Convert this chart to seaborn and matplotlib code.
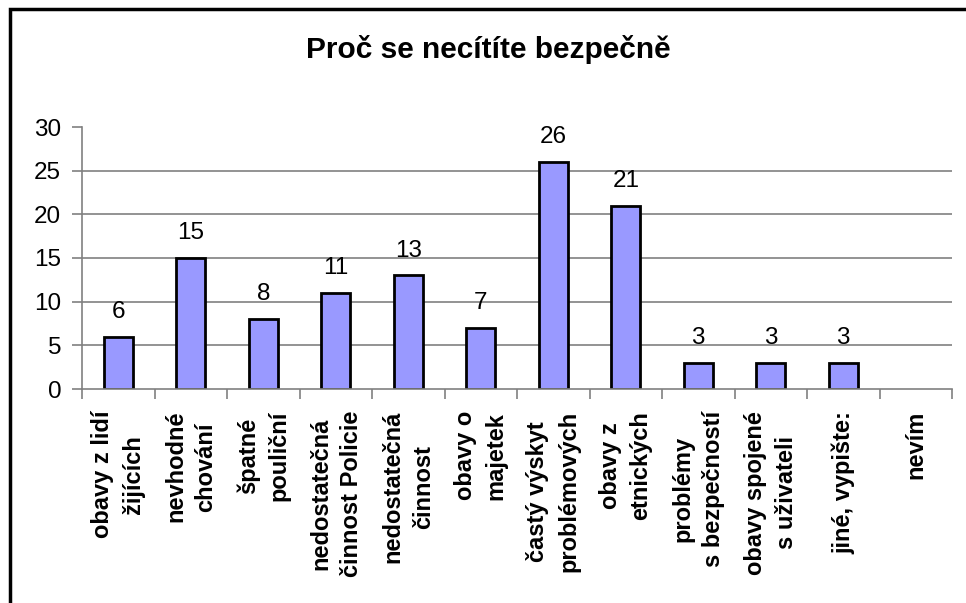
import numpy as np
import pandas as pd
import matplotlib
matplotlib.use("Agg")
import matplotlib.pyplot as plt
import matplotlib.transforms as mtransforms
import seaborn as sns
from matplotlib.patches import Rectangle

categories = [
    "obavy z lidí\nžijících",
    "nevhodné\nchování",
    "špatné\npouliční",
    "nedostatečná\nčinnost Policie",
    "nedostatečná\nčinnost",
    "obavy o\nmajetek",
    "častý výskyt\nproblémových",
    "obavy z\netnických",
    "problémy\ns bezpečností",
    "obavy spojené\ns uživateli",
    "jiné, vypište:",
    "nevím",
]
values = [6, 15, 8, 11, 13, 7, 26, 21, 3, 3, 3, np.nan]
title = "Proč se necítíte bezpečně"
yticks = [0, 5, 10, 15, 20, 25, 30]

sns.set_theme(style="white")
plt.rcParams['font.family'] = ['Liberation Sans', 'DejaVu Sans']

df = pd.DataFrame({"cat": categories, "val": values})

fig = plt.figure(figsize=(9.66, 6.03), dpi=100)
fig.patch.set_facecolor("white")
ax = fig.add_axes([82/966, 1-389/603, (952-82)/966, (389-127)/603])

sns.barplot(data=df, x="cat", y="val", ax=ax, color="#9999FF",
            width=0.4, edgecolor="black", linewidth=2.0, saturation=1)

ax.set_ylim(0, 30)
ax.set_xlim(-0.5, len(categories) - 0.5)
ax.set_yticks(yticks)
ax.set_yticklabels([str(t) for t in yticks], fontsize=17.5, color="black")
ax.set_xlabel("")
ax.set_ylabel("")

for y in yticks[1:-1]:
    ax.axhline(y, color="#808080", linewidth=1.2, zorder=0)

for s in ["top", "right"]:
    ax.spines[s].set_visible(False)
for s in ["left", "bottom"]:
    ax.spines[s].set_color("#808080")
    ax.spines[s].set_linewidth(1.2)

ax.tick_params(axis="y", which="both", left=True, length=7, width=1.2,
               color="#808080", pad=8)
ax.set_xticks(np.arange(-0.5, len(categories), 1.0))
ax.set_xticklabels([])
ax.tick_params(axis="x", which="both", bottom=True, length=7, width=1.2,
               color="#808080", direction="out")

trans = mtransforms.blended_transform_factory(ax.transData, fig.transFigure)
for i, (c, v) in enumerate(zip(categories, values)):
    ax.text(i, 1 - 411/603, c, transform=trans,
            rotation=90, ha="center", va="top", multialignment="center",
            fontsize=17, fontweight="bold", linespacing=1.42, color="black")
    if not np.isnan(v):
        ax.annotate(f"{int(v)}", (i, v), xytext=(0, 10), textcoords="offset points",
                    ha="center", va="bottom", fontsize=17.5, color="black")

fig.text(488/966, 1 - 49/603, title, ha="center", va="center",
         fontsize=21.5, fontweight="bold", color="black")

fig.add_artist(Rectangle((10/966, -0.05), 1.2, 1 - 9/603 + 0.05,
                         transform=fig.transFigure, fill=False,
                         edgecolor="black", linewidth=2.5))

fig.savefig("out.png", dpi=100, facecolor="white")
